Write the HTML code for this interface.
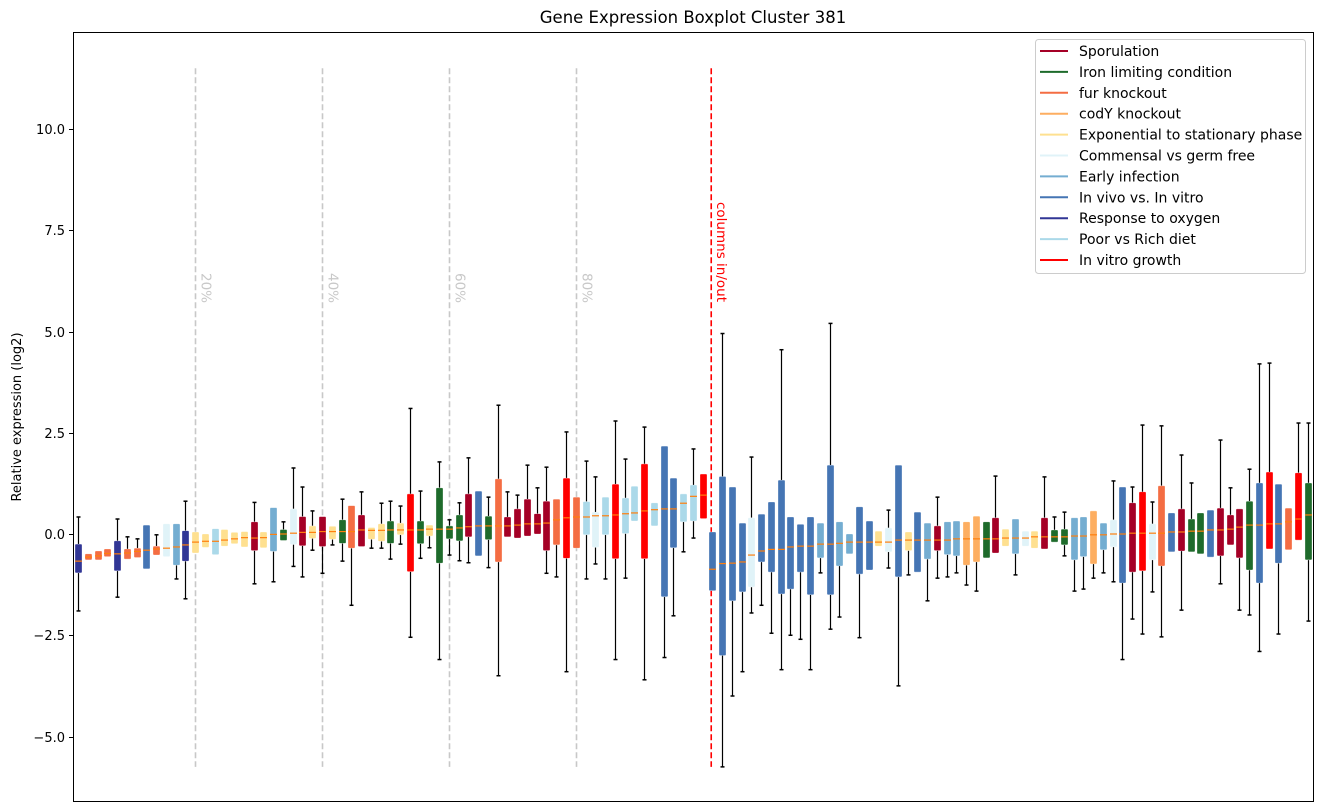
<!DOCTYPE html>
<html><head><meta charset="utf-8">
<style>
body{margin:0;background:#fff;}
svg{display:block;font-family:"DejaVu Sans","Liberation Sans",sans-serif;}
</style></head>
<body>
<svg id="chart" width="1322" height="812" viewBox="0 0 1322 812" xmlns="http://www.w3.org/2000/svg">
<rect x="0" y="0" width="1322" height="812" fill="#fff"/>
<text x="693" y="23" text-anchor="middle" font-size="16.5" fill="#000">Gene Expression Boxplot Cluster 381</text>
<text transform="translate(21,417) rotate(-90)" text-anchor="middle" font-size="13" fill="#000">Relative expression (log2)</text>
<g id="yaxis"></g>
<g id="refs"></g>
<g id="boxes"></g>
<rect x="73.5" y="32.5" width="1240" height="769" fill="none" stroke="#000" stroke-width="1"/>
<g id="legend"></g>
</svg>
<script>
const catNames = {S:"Sporulation",I:"Iron limiting condition",F:"fur knockout",C:"codY knockout",E:"Exponential to stationary phase",M:"Commensal vs germ free",R:"Early infection",V:"In vivo vs. In vitro",O:"Response to oxygen",P:"Poor vs Rich diet",T:"In vitro growth"};
const legendOrder = ["S","I","F","C","E","M","R","V","O","P","T"];
const catColors = {S:"#a50026",I:"#1e6b2b",F:"#f46d43",C:"#fdae61",E:"#fee090",M:"#e0f3f8",R:"#74add1",V:"#4575b4",O:"#313695",P:"#abd9e9",T:"#ff0000"};
const categories = ["O","F","F","F","O","F","F","V","F","M","R","O","E","E","P","E","E","E","S","E","R","I","M","S","E","S","E","I","F","S","E","E","I","E","T","I","E","I","I","I","S","V","I","F","S","S","S","S","S","F","T","F","P","M","P","T","P","P","T","P","V","V","P","P","T","V","V","V","V","M","V","V","V","V","V","V","R","V","R","R","V","V","E","M","V","E","V","R","S","R","R","C","C","I","S","E","R","M","E","S","I","I","R","R","C","R","M","V","S","T","M","F","V","S","I","I","V","S","S","S","I","V","T","V","F","T","I"];
const q3 = [-0.25,-0.49,-0.42,-0.37,-0.17,-0.37,-0.35,0.22,-0.3,0.25,0.25,0.08,0.05,0.0,0.13,0.11,0.04,0.06,0.3,0.05,0.65,0.11,0.62,0.43,0.2,0.43,0.19,0.35,0.7,0.47,0.16,0.25,0.32,0.27,0.99,0.32,0.22,1.14,0.2,0.47,0.99,1.06,0.44,1.36,0.42,0.62,0.86,0.5,0.81,0.86,1.38,0.91,0.8,0.54,0.91,1.23,0.89,1.18,1.73,0.77,2.17,1.38,0.99,1.21,1.48,0.05,1.42,1.16,0.27,0.4,0.49,0.79,1.33,0.42,0.24,0.42,0.27,1.7,0.3,0.0,0.67,0.32,0.07,0.15,1.7,0.05,0.54,0.27,0.2,0.3,0.32,0.3,0.44,0.3,0.4,0.12,0.37,0.07,0.07,0.4,0.1,0.12,0.4,0.42,0.57,0.27,0.35,1.16,0.77,1.04,0.25,1.19,0.52,0.62,0.37,0.52,0.59,0.64,0.47,0.62,0.81,1.26,1.53,1.23,0.64,1.51,1.26];
const q1 = [-0.96,-0.64,-0.64,-0.56,-0.91,-0.62,-0.58,-0.86,-0.52,-0.56,-0.77,-0.67,-0.47,-0.33,-0.51,-0.3,-0.24,-0.32,-0.41,-0.34,-0.43,-0.16,-0.26,-0.29,-0.11,-0.31,-0.13,-0.23,-0.35,-0.31,-0.13,-0.18,-0.23,-0.02,-0.93,-0.24,-0.05,-0.72,-0.12,-0.17,-0.07,-0.54,-0.14,-0.69,-0.07,-0.1,-0.05,0.0,-0.41,-0.27,-0.6,-0.35,-0.02,-0.33,-0.02,-0.61,0.01,0.32,-0.61,0.2,-1.55,-0.34,0.3,0.32,0.38,-1.4,-3.0,-1.65,-1.43,-1.31,-0.69,-0.94,-1.48,-1.36,-0.94,-1.5,-0.59,-1.5,-0.79,-0.49,-0.99,-0.89,-0.3,-0.44,-1.06,-0.41,-0.94,-0.62,-0.41,-0.51,-0.54,-0.77,-0.69,-0.59,-0.47,-0.3,-0.49,-0.3,-0.35,-0.37,-0.2,-0.27,-0.64,-0.56,-0.74,-0.39,-0.32,-1.21,-0.94,-0.91,-0.64,-0.79,-0.44,-0.42,-0.44,-0.49,-0.57,-0.54,-0.27,-0.59,-0.89,-1.21,-0.37,-0.72,-0.39,-0.15,-0.64];
const medians = [-0.67,-0.57,-0.54,-0.48,-0.49,-0.47,-0.43,-0.4,-0.37,-0.35,-0.32,-0.27,-0.2,-0.18,-0.18,-0.15,-0.12,-0.09,-0.1,-0.09,-0.01,0.0,0.02,0.04,0.04,0.06,0.06,0.06,0.06,0.1,0.09,0.09,0.1,0.1,0.1,0.1,0.12,0.12,0.12,0.15,0.18,0.2,0.2,0.2,0.2,0.22,0.25,0.25,0.27,0.35,0.4,0.42,0.42,0.45,0.45,0.47,0.5,0.52,0.57,0.6,0.62,0.62,0.76,0.93,0.96,-0.87,-0.73,-0.72,-0.69,-0.52,-0.42,-0.38,-0.38,-0.32,-0.3,-0.3,-0.25,-0.25,-0.23,-0.2,-0.2,-0.2,-0.2,-0.2,-0.15,-0.15,-0.15,-0.15,-0.15,-0.15,-0.12,-0.12,-0.12,-0.12,-0.12,-0.1,-0.1,-0.1,-0.07,-0.07,-0.07,-0.07,-0.05,-0.05,-0.02,-0.02,0.0,0.0,0.02,0.02,0.02,0.02,0.05,0.05,0.07,0.07,0.1,0.1,0.12,0.17,0.22,0.22,0.25,0.25,0.3,0.37,0.47];
const whiskHi = [0.42,null,null,null,0.37,-0.07,-0.12,null,-0.02,null,null,0.81,null,null,null,null,null,null,0.78,null,null,0.3,1.63,1.16,0.57,null,null,0.86,null,1.04,null,0.76,0.81,0.69,3.1,1.06,null,1.78,0.35,0.77,1.88,null,0.91,3.18,1.04,0.96,1.7,1.14,1.65,null,2.52,null,1.8,1.41,null,2.79,1.85,null,2.64,null,null,null,null,2.1,null,null,4.95,null,null,1.9,null,null,4.55,null,null,null,null,5.2,null,null,null,null,null,0.59,null,null,null,null,0.91,null,null,null,null,null,1.43,null,null,null,null,1.41,0.42,0.54,null,null,null,null,1.31,null,1.16,2.69,0.79,2.67,null,1.95,1.26,null,null,2.32,1.14,null,1.6,4.2,4.22,null,null,2.74,2.74];
const whiskLo = [-1.9,null,null,null,-1.56,null,null,null,null,null,-1.11,-1.6,null,null,null,null,null,null,-1.23,null,-1.18,null,-0.8,-1.06,-0.4,-0.97,-0.27,-0.67,-1.76,null,-0.35,-0.35,-0.62,-0.25,-2.55,-0.6,-0.34,-3.1,-0.52,-0.66,-0.71,null,-0.83,-3.5,null,null,null,null,-0.97,-1.06,-3.4,null,-1.11,-0.74,-1.11,-3.1,-1.09,null,-3.6,null,-3.05,-2.02,-0.44,-0.1,null,null,-5.75,-4.0,-3.4,-1.95,-1.76,-2.45,-3.35,-2.5,-2.6,-3.35,-0.96,-2.35,-2.05,null,-2.56,null,null,-0.84,-3.75,-1.01,null,-1.65,-1.09,-1.06,-0.96,-1.26,-1.41,null,null,null,-1.01,null,null,null,null,-0.54,-1.41,-1.36,-1.09,-0.96,-1.18,-3.1,-2.1,-2.47,-1.43,-2.54,null,-1.88,null,null,null,-1.23,null,-1.88,-2.0,-2.9,null,-2.47,null,null,-2.15];
const yTicks = [10.0,7.5,5.0,2.5,0.0,-2.5,-5.0];
const pctLines = [12,25,38,51];
const pctLabels = ["20%","40%","60%","80%"];
const inOutPos = 64.88;

const NS = "http://www.w3.org/2000/svg";
function xs(i){ return 78 + i * 9.76; }
function ys(v){ return 534 - v * 40.5; }
function mk(tag, attrs, parent){
  const e = document.createElementNS(NS, tag);
  for (const k in attrs) e.setAttribute(k, attrs[k]);
  parent.appendChild(e);
  return e;
}
const yaxis = document.getElementById('yaxis');
yTicks.forEach(t => {
  const y = Math.round(ys(t)) + 0.5;
  const tk = mk('line', {x1:69, x2:73.5, y1:y, y2:y, stroke:'#000', 'stroke-width':1}, yaxis);
  
  
  const lb = mk('text', {x:65, y:y+4.5, 'text-anchor':'end', 'font-size':13, fill:'#000'}, yaxis);
  lb.textContent = (t < 0 ? '\u2212' : '') + Math.abs(t).toFixed(1);
  
  
});
const refs = document.getElementById('refs');
pctLines.forEach((p, k) => {
  const x = Math.round(xs(p)) + 0.5;
  const ln = mk('line', {x1:x, x2:x, y1:ys(11.5), y2:ys(-5.75), stroke:'#c8c8c8', 'stroke-width':1.6, 'stroke-dasharray':'6,3'}, refs);
  
  
  const tx = mk('text', {transform:'translate(' + (x+6) + ',273) rotate(90)', 'font-size':13.5, fill:'#c8c8c8'}, refs);
  tx.textContent = pctLabels[k];
  
  
});
{
  const x = xs(inOutPos);
  const ln = mk('line', {x1:x, x2:x, y1:ys(11.5), y2:ys(-5.75), stroke:'#ff0000', 'stroke-width':1.6, 'stroke-dasharray':'6,3'}, refs);
  
  
  const tx = mk('text', {transform:'translate(' + (x+6) + ',202) rotate(90)', 'font-size':13.5, fill:'#ff0000'}, refs);
  tx.textContent = 'columns in/out';
  
  
}
const boxesG = document.getElementById('boxes');
categories.forEach((c, i) => {
  const g = mk('g', {}, boxesG);
  
  
  const x = Math.round(xs(i)) + 0.5;
  const hi = whiskHi[i] === null ? q3[i] : whiskHi[i];
  const lo = whiskLo[i] === null ? q1[i] : whiskLo[i];
  if (hi > q3[i]) {
    mk('line', {x1:x, x2:x, y1:ys(hi), y2:ys(q3[i]), stroke:'#000', 'stroke-width':1.2}, g);
    mk('line', {x1:x-2, x2:x+2, y1:ys(hi), y2:ys(hi), stroke:'#000', 'stroke-width':1.5}, g);
  }
  if (lo < q1[i]) {
    mk('line', {x1:x, x2:x, y1:ys(q1[i]), y2:ys(lo), stroke:'#000', 'stroke-width':1.2}, g);
    mk('line', {x1:x-2, x2:x+2, y1:ys(lo), y2:ys(lo), stroke:'#000', 'stroke-width':1.5}, g);
  }
  mk('rect', {x:x-3.5, y:ys(q3[i]), width:7, height:Math.max(1, ys(q1[i]) - ys(q3[i])), rx:1, fill:catColors[c], stroke:'rgba(255,255,255,0.5)', 'stroke-width':0.6}, g);
  mk('line', {x1:x-3.5, x2:x+3.5, y1:ys(medians[i]), y2:ys(medians[i]), stroke:'#ff7f0e', 'stroke-width':1.2}, g);
});
const leg = document.getElementById('legend');
const lr = mk('rect', {x:1035.5, y:39.5, width:270, height:234, rx:3, fill:'#fff', 'fill-opacity':0.8, stroke:'#ccc', 'stroke-width':1}, leg);


legendOrder.forEach((c, k) => {
  const y = 51 + k * 20.9;
  const eg = mk('g', {}, leg);
  
  
  mk('line', {x1:1040, x2:1068, y1:y, y2:y, stroke:catColors[c], 'stroke-width':2}, eg);
  const t = mk('text', {x:1079, y:y+5, 'font-size':14, fill:'#000'}, eg);
  t.textContent = catNames[c];
});
</script>
</body></html>
